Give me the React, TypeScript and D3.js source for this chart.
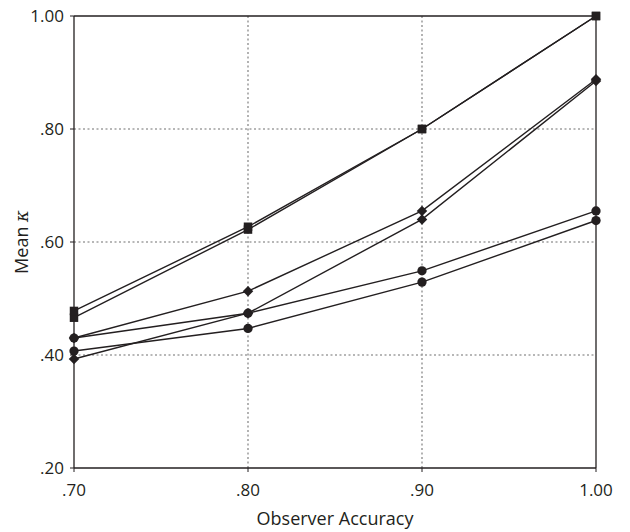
import React from "react";
import * as d3 from "d3";

const xValues = [0.7, 0.8, 0.9, 1.0];
const xTickLabels = [".70", ".80", ".90", "1.00"];
const yTicks = [0.2, 0.4, 0.6, 0.8, 1.0];
const yTickLabels = [".20", ".40", ".60", ".80", "1.00"];

const squareA = [0.466, 0.622, 0.8, 1.0];
const squareB = [0.478, 0.627, 0.8, 1.0];
const diamondA = [0.43, 0.513, 0.655, 0.888];
const diamondB = [0.393, 0.474, 0.64, 0.885];
const circleA = [0.43, 0.474, 0.549, 0.655];
const circleB = [0.407, 0.447, 0.529, 0.638];

const series = [
  { name: "squareA", values: squareA, marker: "square" },
  { name: "squareB", values: squareB, marker: "square" },
  { name: "diamondA", values: diamondA, marker: "diamond" },
  { name: "diamondB", values: diamondB, marker: "diamond" },
  { name: "circleA", values: circleA, marker: "circle" },
  { name: "circleB", values: circleB, marker: "circle" },
];

const W = 630;
const H = 532;
const left = 74;
const right = 596;
const top = 16;
const bottom = 468;
const font = "'Open Sans', 'Noto Sans', sans-serif";

export default function App() {
  const x = d3.scaleLinear().domain([0.7, 1.0]).range([left, right]);
  const y = d3.scaleLinear().domain([0.2, 1.0]).range([bottom, top]);
  const line = d3
    .line<number>()
    .x((_, i) => x(xValues[i]))
    .y((d) => y(d));

  const symSquare = d3.symbol().type(d3.symbolSquare).size(72)();
  const symDiamond = d3.symbol().type(d3.symbolDiamond2).size(70)();
  const symCircle = d3.symbol().type(d3.symbolCircle).size(68)();
  const symFor = (m: string) => (m === "square" ? symSquare : m === "diamond" ? symDiamond : symCircle);

  return (
    <svg width={W} height={H} style={{ position: "absolute", left: 0, top: 0, background: "#fff" }}>
      <rect x={0} y={0} width={W} height={H} fill="#fff" />
      {/* grid */}
      {xValues.slice(1, 3).map((v) => (
        <line key={"gx" + v} x1={x(v)} x2={x(v)} y1={top} y2={bottom} stroke="#a0a0a0" strokeWidth={1.6} strokeDasharray="2,2.5" />
      ))}
      {yTicks.slice(1, 4).map((v) => (
        <line key={"gy" + v} x1={left} x2={right} y1={y(v)} y2={y(v)} stroke="#a0a0a0" strokeWidth={1.6} strokeDasharray="2,2.5" />
      ))}
      {/* frame */}
      <line x1={left} x2={right} y1={top} y2={top} stroke="#231f20" strokeWidth={1.3} />
      <line x1={right} x2={right} y1={top} y2={bottom} stroke="#231f20" strokeWidth={1.3} />
      <line x1={left} x2={right} y1={bottom} y2={bottom} stroke="#231f20" strokeWidth={1.3} />
      <line x1={left} x2={left} y1={top} y2={bottom} stroke="#231f20" strokeWidth={1.3} />
      {/* ticks */}
      {yTicks.map((v, i) => (
        <g key={"yt" + v}>
          <line x1={left - 4} x2={left} y1={y(v)} y2={y(v)} stroke="#231f20" strokeWidth={1} />
          <text x={left - 10} y={y(v)} dy="0.35em" textAnchor="end" fontFamily={font} fontSize={17} fill="#231f20">
            {yTickLabels[i]}
          </text>
        </g>
      ))}
      {xValues.map((v, i) => (
        <g key={"xt" + v}>
          <line x1={x(v)} x2={x(v)} y1={bottom} y2={bottom + 4} stroke="#231f20" strokeWidth={1} />
          <text x={x(v)} y={bottom + 28} textAnchor="middle" fontFamily={font} fontSize={17} fill="#231f20">
            {xTickLabels[i]}
          </text>
        </g>
      ))}
      {/* axis titles */}
      <text x={(left + right) / 2} y={525} textAnchor="middle" fontFamily={font} fontSize={18} fill="#231f20">
        Observer Accuracy
      </text>
      <text transform={`translate(28, ${y(0.6)}) rotate(-90)`} textAnchor="middle" fontFamily={font} fontSize={18} fill="#231f20">
        Mean <tspan fontStyle="italic" fontFamily="'DejaVu Serif', serif">κ</tspan>
      </text>
      {/* lines */}
      {series.map((s) => (
        <path key={"l" + s.name} d={line(s.values) || ""} fill="none" stroke="#231f20" strokeWidth={1.4} />
      ))}
      {/* markers */}
      {series.map((s) =>
        s.values.map((v, i) => (
          <path key={"m" + s.name + i} d={symFor(s.marker) || ""} transform={`translate(${x(xValues[i])},${y(v)})`} fill="#231f20" />
        ))
      )}
    </svg>
  );
}
